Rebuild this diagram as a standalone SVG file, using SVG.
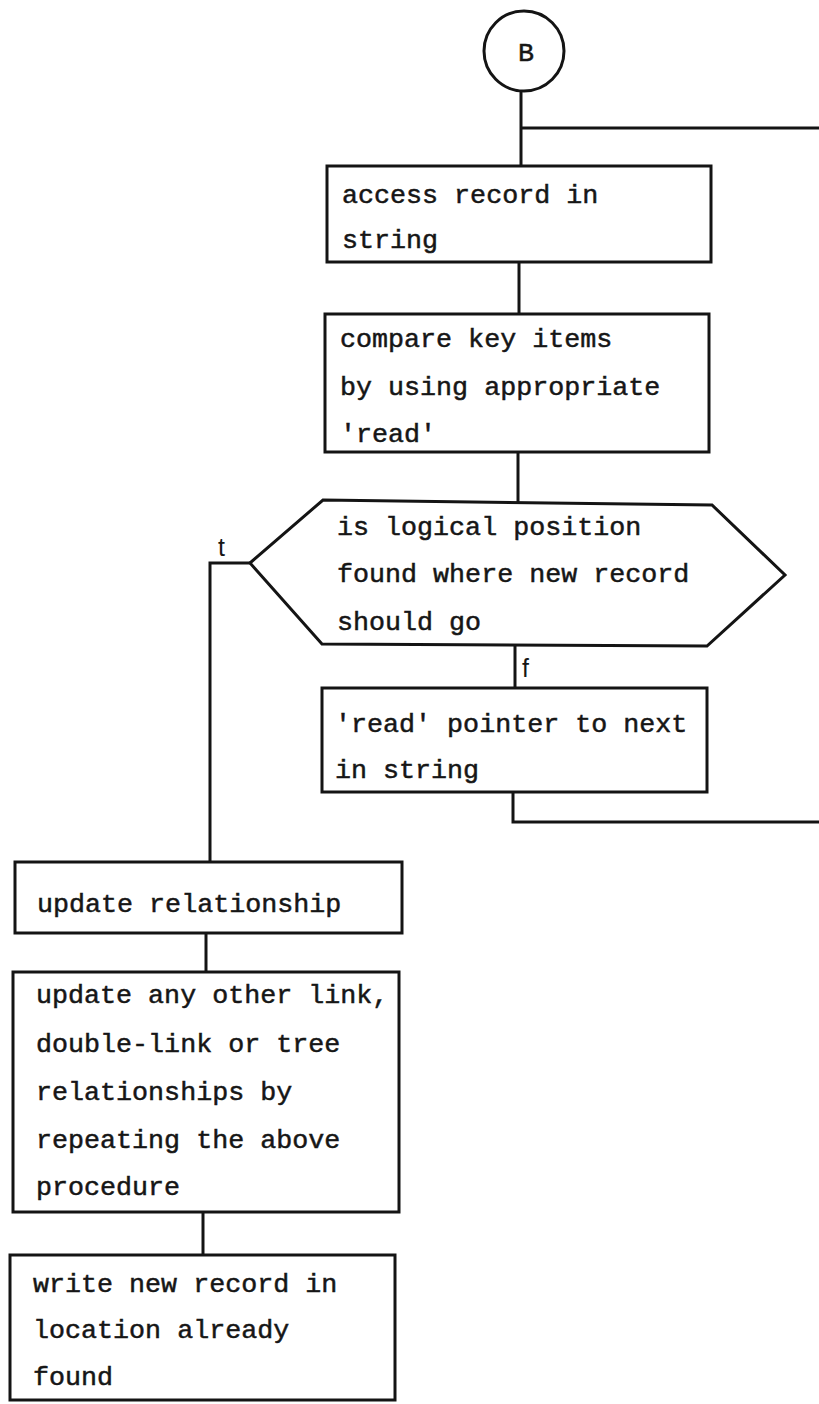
<svg xmlns="http://www.w3.org/2000/svg" width="819" height="1404" viewBox="0 0 819 1404">
  <style>
    .shape { fill: #ffffff; stroke: #141414; stroke-width: 3; stroke-linejoin: miter; }
    .conn { fill: none; stroke: #141414; stroke-width: 3; }
    .txt { font-family: "Liberation Mono", "DejaVu Sans Mono", monospace; font-size: 26.7px; fill: #161616; stroke: #161616; stroke-width: 0.5; }
    .lbl { font-family: "Liberation Sans", "DejaVu Sans", sans-serif; font-size: 25px; fill: #161616; }
  </style>
  <rect x="0" y="0" width="819" height="1404" fill="#ffffff"/>

  <!-- flow lines -->
  <g id="connectors">
    <path class="conn" d="M521,91 V166"/>
    <path class="conn" d="M521,128 H819"/>
    <path class="conn" d="M519,262 V314"/>
    <path class="conn" d="M518,452 V502"/>
    <path class="conn" d="M515,646 V688"/>
    <path class="conn" d="M513,792 V822 H819"/>
    <path class="conn" d="M250,563 H210 V862"/>
    <path class="conn" d="M206,933 V972"/>
    <path class="conn" d="M203,1212 V1255"/>
    <text class="lbl" x="218" y="556">t</text>
    <text class="lbl" x="522" y="677">f</text>
  </g>

  <!-- entry connector B -->
  <g id="connector-b">
    <circle class="shape" cx="524" cy="51" r="40"/>
    <text class="txt" x="526" y="61" text-anchor="middle">B</text>
  </g>

  <g id="access-record">
    <rect class="shape" x="327" y="166" width="384" height="96"/>
    <text class="txt" x="342" y="203">access record in</text>
    <text class="txt" x="342" y="248">string</text>
  </g>

  <g id="compare-keys">
    <rect class="shape" x="325" y="314" width="384" height="138"/>
    <text class="txt" x="340" y="347">compare key items</text>
    <text class="txt" x="340" y="395">by using appropriate</text>
    <text class="txt" x="340" y="442">'read'</text>
  </g>

  <g id="position-found">
    <polygon class="shape" points="323,500 712,505 785,575 707,646 322,644 250,563"/>
    <text class="txt" x="337" y="535">is logical position</text>
    <text class="txt" x="337" y="582">found where new record</text>
    <text class="txt" x="337" y="630">should go</text>
  </g>

  <g id="read-next">
    <rect class="shape" x="322" y="688" width="385" height="104"/>
    <text class="txt" x="335" y="732">'read' pointer to next</text>
    <text class="txt" x="335" y="778">in string</text>
  </g>

  <g id="update-relationship">
    <rect class="shape" x="15" y="862" width="387" height="71"/>
    <text class="txt" x="37" y="912">update relationship</text>
  </g>

  <g id="update-other-links">
    <rect class="shape" x="13" y="972" width="386" height="240"/>
    <text class="txt" x="36" y="1003">update any other link,</text>
    <text class="txt" x="36" y="1052">double-link or tree</text>
    <text class="txt" x="36" y="1100">relationships by</text>
    <text class="txt" x="36" y="1148">repeating the above</text>
    <text class="txt" x="36" y="1195">procedure</text>
  </g>

  <g id="write-record">
    <rect class="shape" x="10" y="1255" width="385" height="145"/>
    <text class="txt" x="33" y="1292">write new record in</text>
    <text class="txt" x="33" y="1338">location already</text>
    <text class="txt" x="33" y="1385">found</text>
  </g>
</svg>
